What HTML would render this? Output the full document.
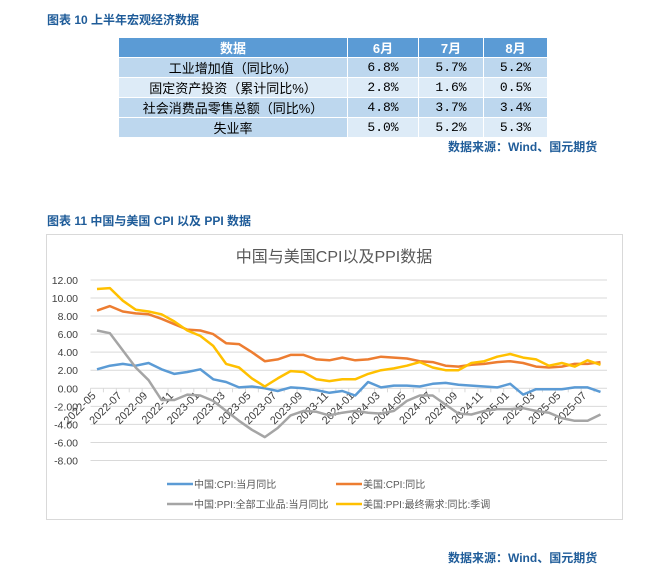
<!DOCTYPE html>
<html><head><meta charset="utf-8">
<style>
body{margin:0;width:655px;height:581px;background:#fff;font-family:"Liberation Sans","Noto Sans CJK SC",sans-serif;position:relative;overflow:hidden}
.t{position:absolute;color:#1f5c99;font-size:12px;font-weight:bold}
table{position:absolute;left:118px;top:37px;border-collapse:collapse;font-size:13px;color:#000}
td{border:1px solid #fff;height:18px;padding:0;text-align:center;font-family:"Liberation Mono","Noto Sans CJK SC",monospace}
.h td{background:#5b9bd5;color:#fff;font-weight:bold;font-family:"Liberation Sans","Noto Sans CJK SC",sans-serif}
.a td{background:#bdd7ee}.b td{background:#ddebf7}
td.n{font-family:"Liberation Sans","Noto Sans CJK SC",sans-serif}
</style></head><body>
<div class="t" style="left:47px;top:11px">图表 10 上半年宏观经济数据</div>
<table>
<tr class="h"><td style="width:228px">数据</td><td style="width:70px">6月</td><td style="width:64px">7月</td><td style="width:63px">8月</td></tr>
<tr class="a"><td class="n">工业增加值（同比%）</td><td>6.8%</td><td>5.7%</td><td>5.2%</td></tr>
<tr class="b"><td class="n">固定资产投资（累计同比%）</td><td>2.8%</td><td>1.6%</td><td>0.5%</td></tr>
<tr class="a"><td class="n">社会消费品零售总额（同比%）</td><td>4.8%</td><td>3.7%</td><td>3.4%</td></tr>
<tr class="b"><td class="n" style="background:#bdd7ee">失业率</td><td>5.0%</td><td>5.2%</td><td>5.3%</td></tr>
</table>
<div class="t" style="left:448px;top:138px">数据来源：Wind、国元期货</div>
<div class="t" style="left:47px;top:212px">图表 11 中国与美国 CPI 以及 PPI 数据</div>
<svg id="c" style="position:absolute;left:0;top:0" width="655" height="581"></svg>
<div class="t" style="left:448px;top:549px">数据来源：Wind、国元期货</div>
<script>
const months=["2022-05","2022-06","2022-07","2022-08","2022-09","2022-10","2022-11","2022-12","2023-01","2023-02","2023-03","2023-04","2023-05","2023-06","2023-07","2023-08","2023-09","2023-10","2023-11","2023-12","2024-01","2024-02","2024-03","2024-04","2024-05","2024-06","2024-07","2024-08","2024-09","2024-10","2024-11","2024-12","2025-01","2025-02","2025-03","2025-04","2025-05","2025-06","2025-07","2025-08"];
const cnCPI=[2.1,2.5,2.7,2.5,2.8,2.1,1.6,1.8,2.1,1.0,0.7,0.1,0.2,0.0,-0.3,0.1,0.0,-0.2,-0.5,-0.3,-0.8,0.7,0.1,0.3,0.3,0.2,0.5,0.6,0.4,0.3,0.2,0.1,0.5,-0.7,-0.1,-0.1,-0.1,0.1,0.1,-0.4];
const usCPI=[8.6,9.1,8.5,8.3,8.2,7.7,7.1,6.5,6.4,6.0,5.0,4.9,4.0,3.0,3.2,3.7,3.7,3.2,3.1,3.4,3.1,3.2,3.5,3.4,3.3,3.0,2.9,2.5,2.4,2.6,2.7,2.9,3.0,2.8,2.4,2.3,2.4,2.7,2.7,2.9];
const cnPPI=[6.4,6.1,4.2,2.3,0.9,-1.3,-1.3,-0.7,-0.8,-1.4,-2.5,-3.6,-4.6,-5.4,-4.4,-3.0,-2.5,-2.6,-3.0,-2.7,-2.5,-2.7,-2.8,-2.5,-1.4,-0.8,-0.8,-1.8,-2.8,-2.9,-2.5,-2.3,-2.3,-2.2,-2.5,-2.7,-3.3,-3.6,-3.6,-2.9];
const usPPI=[11.0,11.1,9.7,8.7,8.5,8.2,7.4,6.4,5.8,4.7,2.7,2.3,1.1,0.2,1.1,1.9,1.8,1.0,0.8,1.0,1.0,1.6,2.0,2.2,2.5,2.9,2.3,2.0,2.0,2.8,3.0,3.5,3.8,3.4,3.2,2.5,2.8,2.4,3.1,2.6];
const yTicks=[12,10,8,6,4,2,0,-2,-4,-6,-8];
const NS="http://www.w3.org/2000/svg",svg=document.getElementById('c');
const x0=90.5,x1=607,y0=388.3,k=9.03;
const X=i=>x0+(i+0.5)*(x1-x0)/months.length, Y=v=>y0-v*k;
function el(t,a,p){const e=document.createElementNS(NS,t);for(const q in a)e.setAttribute(q,a[q]);(p||svg).appendChild(e);return e;}
const box=el('rect',{x:46.5,y:234.5,width:576,height:285,fill:'#fff',stroke:'#d9d9d9'});


const tt=el('text',{x:334,y:262,'text-anchor':'middle','font-size':16,fill:'#595959'});
tt.textContent='中国与美国CPI以及PPI数据';


yTicks.forEach(v=>{
  const g=el('line',{x1:x0,x2:x1,y1:Y(v),y2:Y(v),stroke:'#d9d9d9'});
  
  
  const t=el('text',{x:78,y:Y(v)+4,'text-anchor':'end','font-size':10.5,fill:'#404040'});
  t.textContent=v.toFixed(2);
  
  
});
months.forEach((m,i)=>{
  const tx=x0+i*(x1-x0)/months.length;
  el('line',{x1:tx,x2:tx,y1:y0,y2:y0+4,stroke:'#d9d9d9'});
  if(i%2===0){
    const t=el('text',{x:tx+6,y:y0+8,'text-anchor':'end','font-size':11,fill:'#404040',transform:`rotate(-45 ${tx+6} ${y0+8})`});
    t.textContent=m;
    
    
  }
});
const series=[[cnCPI,'#5b9bd5','china-cpi-line'],[usCPI,'#ed7d31','us-cpi-line'],[cnPPI,'#a5a5a5','china-ppi-line'],[usPPI,'#ffc000','us-ppi-line']];
series.forEach(s=>{
  const p=el('polyline',{points:s[0].map((v,i)=>X(i).toFixed(1)+','+Y(v).toFixed(1)).join(' '),fill:'none',stroke:s[1],'stroke-width':2.5,'stroke-linejoin':'round'});
  
  
});
const leg=[['中国:CPI:当月同比','#5b9bd5',167,484],['美国:CPI:同比','#ed7d31',336,484],['中国:PPI:全部工业品:当月同比','#a5a5a5',167,504],['美国:PPI:最终需求:同比:季调','#ffc000',336,504]];
leg.forEach(l=>{
  const g=el('g',{});
  
  
  el('line',{x1:l[2],x2:l[2]+26,y1:l[3],y2:l[3],stroke:l[1],'stroke-width':2.5},g);
  const t=el('text',{x:l[2]+27,y:l[3]+4,'font-size':10,fill:'#595959'},g);
  t.textContent=l[0];
});
</script>
</body></html>
